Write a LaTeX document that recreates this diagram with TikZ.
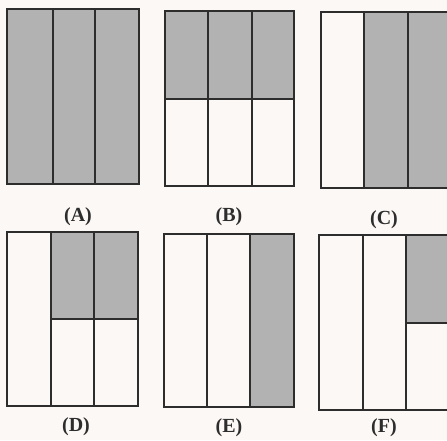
\documentclass[tikz,border=0pt]{standalone}
\usepackage{fontspec}
\setmainfont{Liberation Serif}
\definecolor{bgc}{RGB}{252,248,246}
\definecolor{ink}{RGB}{45,45,45}
\definecolor{dots}{RGB}{178,178,178}
\begin{document}
\begin{tikzpicture}[x=1pt,y=-1pt,
  grid/.style={line width=2.1pt, draw=ink, line cap=rect},
  shaded/.style={fill=dots},
  lab/.style={font=\fontsize{20}{20}\selectfont\bfseries, text=ink, inner sep=0pt}]
\fill[bgc] (0,0) rectangle (447,440);
\useasboundingbox (0,0) rectangle (447,440);
\clip (0,0) rectangle (447,440);
% (A)
\fill[shaded] (7,9) rectangle (139,184);
\draw[grid] (7,9) rectangle (139,184) (53,9) -- (53,184) (95,9) -- (95,184);
\node[lab] (la) at (78,217) {(A)};
% (B)
\fill[shaded] (165,11) rectangle (294,99);
\draw[grid] (165,11) rectangle (294,186) (208,11) -- (208,186) (252,11) -- (252,186) (165,99) -- (294,99);
\node[lab] (lb) at (229,217) {(B)};
% (C)
\fill[shaded] (364,12) rectangle (452,188);
\draw[grid] (321,12) rectangle (452,188) (364,12) -- (364,188) (408,12) -- (408,188);
\node[lab] (lc) at (384,220) {(C)};
% (D)
\fill[shaded] (51,232) rectangle (138,319);
\draw[grid] (7,232) rectangle (138,406) (51,232) -- (51,406) (94,232) -- (94,406) (51,319) -- (138,319);
\node[lab] (ld) at (76,427) {(D)};
% (E)
\fill[shaded] (250,234) rectangle (294,407);
\draw[grid] (164,234) rectangle (294,407) (207,234) -- (207,407) (250,234) -- (250,407);
\node[lab] (le) at (229,428) {(E)};
% (F)
\fill[shaded] (406,235) rectangle (452,323);
\draw[grid] (319,235) rectangle (452,410) (363,235) -- (363,410) (406,235) -- (406,410) (406,323) -- (452,323);
\node[lab] (lf) at (384,428) {(F)};
\end{tikzpicture}
\end{document}
